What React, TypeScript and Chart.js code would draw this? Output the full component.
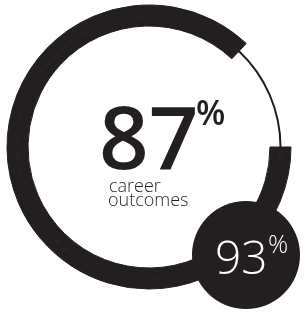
import React, { useEffect, useRef } from "react";
import { Chart, registerables } from "chart.js";

Chart.register(...registerables);

// ---- data ----
const segmentLabels = ["career outcomes", "remainder"];
const careerOutcomes = [87, 13]; // percent reached, rest of the ring
const badgeValue = [93];
const subtitleLines = ["career", "outcomes"];

const DARK = "#231f20";
const CLEAR = "rgba(0,0,0,0)";
const FONT = '"Open Sans", "Noto Sans", sans-serif';

const textPlugin = {
  id: "centerText",
  afterDraw(chart: any) {
    const meta = chart.getDatasetMeta(0);
    const arc = meta.data[0];
    if (!arc) return;
    const { x: cx, y: cy } = arc.getProps(["x", "y"], true);
    const ctx = chart.ctx as CanvasRenderingContext2D;
    ctx.save();
    ctx.textAlign = "left";
    ctx.textBaseline = "alphabetic";

    const inkLeft = (txt: string, font: string, left: number, baseline: number, color: string) => {
      ctx.font = font;
      ctx.fillStyle = color;
      const m = ctx.measureText(txt);
      ctx.fillText(txt, left + m.actualBoundingBoxLeft, baseline);
    };
    const inkTop = (txt: string, font: string, left: number, top: number, color: string) => {
      ctx.font = font;
      ctx.fillStyle = color;
      const m = ctx.measureText(txt);
      ctx.fillText(txt, left + m.actualBoundingBoxLeft, top + m.actualBoundingBoxAscent);
    };

    // main value
    inkLeft(String(careerOutcomes[0]), `600 87px ${FONT}`, cx - 47, cy + 22, DARK);
    inkTop("%", `600 34px ${FONT}`, cx + 48, cy - 47, DARK);
    inkLeft(subtitleLines[0], `300 18px ${FONT}`, cx - 39, cy + 45, DARK);
    inkLeft(subtitleLines[1], `300 18px ${FONT}`, cx - 40, cy + 59, DARK);

    // badge
    ctx.beginPath();
    ctx.fillStyle = DARK;
    ctx.arc(cx + 97, cy + 108, 54, 0, Math.PI * 2);
    ctx.fill();
    inkLeft(String(badgeValue[0]), `300 46px ${FONT}`, cx + 68, cy + 127, "#ffffff");
    inkTop("%", `300 25px ${FONT}`, cx + 120, cy + 88, "#ffffff");
    ctx.restore();
  },
};

export default function App() {
  const ref = useRef<HTMLCanvasElement>(null);
  useEffect(() => {
    if (!ref.current) return;
    const ring = (colors: string[], borders: string[], widths: number[], weight: number) => ({
      data: careerOutcomes,
      backgroundColor: colors,
      borderColor: borders,
      borderWidth: widths,
      hoverBorderWidth: widths,
      weight,
    });
    const chart = new Chart(ref.current, {
      type: "doughnut",
      data: {
        labels: segmentLabels,
        datasets: [
          ring([DARK, CLEAR], [DARK, CLEAR], [1, 0], 9.5),
          ring([DARK, DARK], [DARK, CLEAR], [1, 0], 2),
          ring([DARK, CLEAR], [DARK, CLEAR], [1, 0], 9.5),
        ],
      },
      options: {
        responsive: false,
        animation: false,
        rotation: 90,
        cutout: "85.2%",
        layout: { padding: { left: 6.5, top: 4.5, right: 15.5, bottom: 22.5 } },
        plugins: { legend: { display: false }, tooltip: { enabled: false } },
      },
      plugins: [textPlugin],
    });
    return () => chart.destroy();
  }, []);
  return (
    <div style={{ position: "absolute", left: 0, top: 0, width: 307, height: 312, background: "#fff" }}>
      <canvas ref={ref} width={307} height={312} style={{ width: 307, height: 312, display: "block" }} />
    </div>
  );
}
